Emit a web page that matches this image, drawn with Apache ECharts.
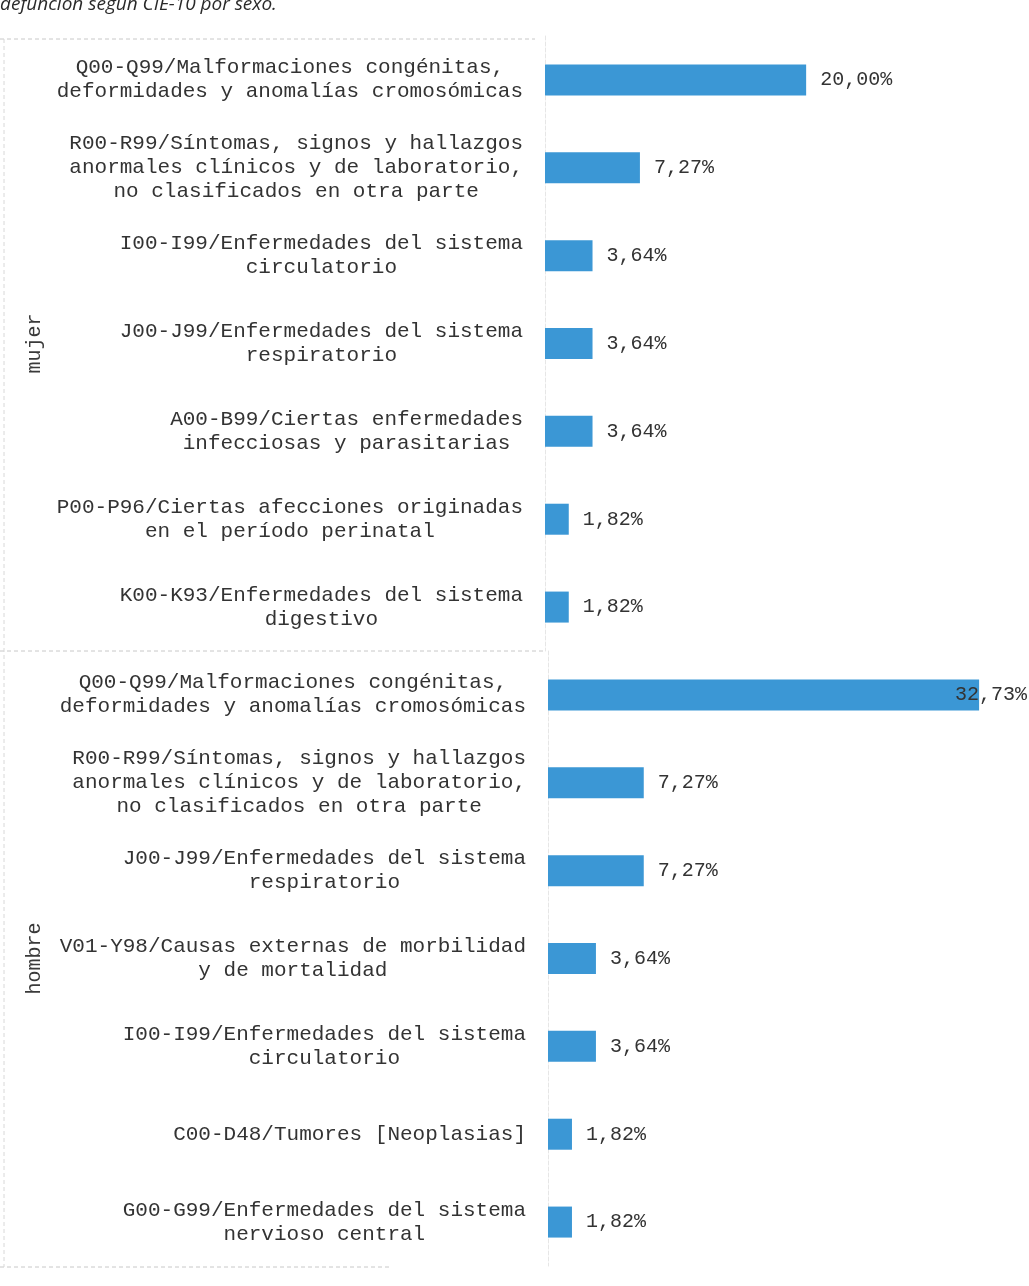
<!DOCTYPE html>
<html>
<head>
<meta charset="utf-8">
<script src="https://cdn.jsdelivr.net/npm/echarts@6/dist/echarts.min.js"></script>
<style>
html,body{margin:0;padding:0;background:#fff;}
#c{width:1029px;height:1286px;}
</style>
</head>
<body>
<div id="c"></div>
<script>
var titleText = 'defunción según CIE-10 por sexo.';
var groupNames = ['mujer', 'hombre'];

var mujerCategories = [
  'Q00-Q99/Malformaciones congénitas,\ndeformidades y anomalías cromosómicas',
  'R00-R99/Síntomas, signos y hallazgos\nanormales clínicos y de laboratorio,\nno clasificados en otra parte',
  'I00-I99/Enfermedades del sistema\ncirculatorio',
  'J00-J99/Enfermedades del sistema\nrespiratorio',
  'A00-B99/Ciertas enfermedades\ninfecciosas y parasitarias',
  'P00-P96/Ciertas afecciones originadas\nen el período perinatal',
  'K00-K93/Enfermedades del sistema\ndigestivo'
];
var mujerValues = [20.00, 7.27, 3.64, 3.64, 3.64, 1.82, 1.82];

var hombreCategories = [
  'Q00-Q99/Malformaciones congénitas,\ndeformidades y anomalías cromosómicas',
  'R00-R99/Síntomas, signos y hallazgos\nanormales clínicos y de laboratorio,\nno clasificados en otra parte',
  'J00-J99/Enfermedades del sistema\nrespiratorio',
  'V01-Y98/Causas externas de morbilidad\ny de mortalidad',
  'I00-I99/Enfermedades del sistema\ncirculatorio',
  'C00-D48/Tumores [Neoplasias]',
  'G00-G99/Enfermedades del sistema\nnervioso central'
];
var hombreValues = [32.73, 7.27, 7.27, 3.64, 3.64, 1.82, 1.82];

var MONO = "'Liberation Mono','Courier New',monospace";
var BAR = '#3b97d5';
var XMAX = 35;

function fmt(v) { return v.toFixed(2).replace('.', ',') + '%'; }

function barData(vals) {
  var maxV = Math.max.apply(null, vals);
  return vals.map(function (v) {
    var d = { value: v };
    if (v === maxV && v > 30) {
      d.label = { offset: [-38, 0] };
    }
    return d;
  });
}

function yAxisFor(idx, cats, name, gap) {
  return {
    type: 'category', gridIndex: idx, inverse: true, data: cats,
    name: name, nameLocation: 'middle', nameRotate: 90, nameGap: gap,
    nameTextStyle: { fontFamily: MONO, fontSize: 20, color: '#3a3a3a' },
    axisLine: { show: true, lineStyle: { color: '#e6e6e6', type: 'dashed', width: 1 } },
    axisTick: { show: false },
    axisLabel: {
      margin: 22,
      formatter: function (v) { return '{c|' + v + '}'; },
      rich: { c: { align: 'center', fontFamily: MONO, fontSize: 21, lineHeight: 24, color: '#333' } }
    },
    splitLine: { show: false }
  };
}

var chart = echarts.init(document.getElementById('c'), null, { renderer: 'canvas' });
chart.setOption({
  animation: false,
  backgroundColor: '#fff',
  title: {
    text: titleText, left: 0, top: -5, padding: 0,
    textStyle: { fontFamily: "'Open Sans',sans-serif", fontStyle: 'italic', fontWeight: 'normal', fontSize: 19, color: '#2a2a2a' }
  },
  grid: [
    { left: 545, top: 36, width: 457, height: 615 },
    { left: 548, top: 651, width: 461, height: 615 }
  ],
  xAxis: [
    { type: 'value', gridIndex: 0, min: 0, max: XMAX, show: false },
    { type: 'value', gridIndex: 1, min: 0, max: XMAX, show: false }
  ],
  yAxis: [
    yAxisFor(0, mujerCategories, groupNames[0], 500),
    yAxisFor(1, hombreCategories, groupNames[1], 503)
  ],
  series: [
    {
      type: 'bar', xAxisIndex: 0, yAxisIndex: 0, data: barData(mujerValues),
      barWidth: 31, itemStyle: { color: BAR },
      label: { show: true, position: 'right', distance: 14, formatter: function (p) { return fmt(p.value); },
        fontFamily: MONO, fontSize: 20, color: '#333' }
    },
    {
      type: 'bar', xAxisIndex: 1, yAxisIndex: 1, data: barData(hombreValues),
      barWidth: 31, itemStyle: { color: BAR },
      label: { show: true, position: 'right', distance: 14, formatter: function (p) { return fmt(p.value); },
        fontFamily: MONO, fontSize: 20, color: '#333' }
    }
  ],
  graphic: [
    { type: 'line', shape: { x1: 0, y1: 39, x2: 535, y2: 39 }, style: { stroke: '#c8c8c8', lineDash: [4, 3], lineWidth: 1 } },
    { type: 'line', shape: { x1: 0, y1: 651, x2: 545, y2: 651 }, style: { stroke: '#c8c8c8', lineDash: [4, 3], lineWidth: 1 } },
    { type: 'line', shape: { x1: 0, y1: 1267, x2: 390, y2: 1267 }, style: { stroke: '#c8c8c8', lineDash: [4, 3], lineWidth: 1 } },
    { type: 'line', shape: { x1: 4, y1: 39, x2: 4, y2: 1267 }, style: { stroke: '#d8d8d8', lineDash: [4, 3], lineWidth: 1 } }
  ]
});
</script>
</body>
</html>
